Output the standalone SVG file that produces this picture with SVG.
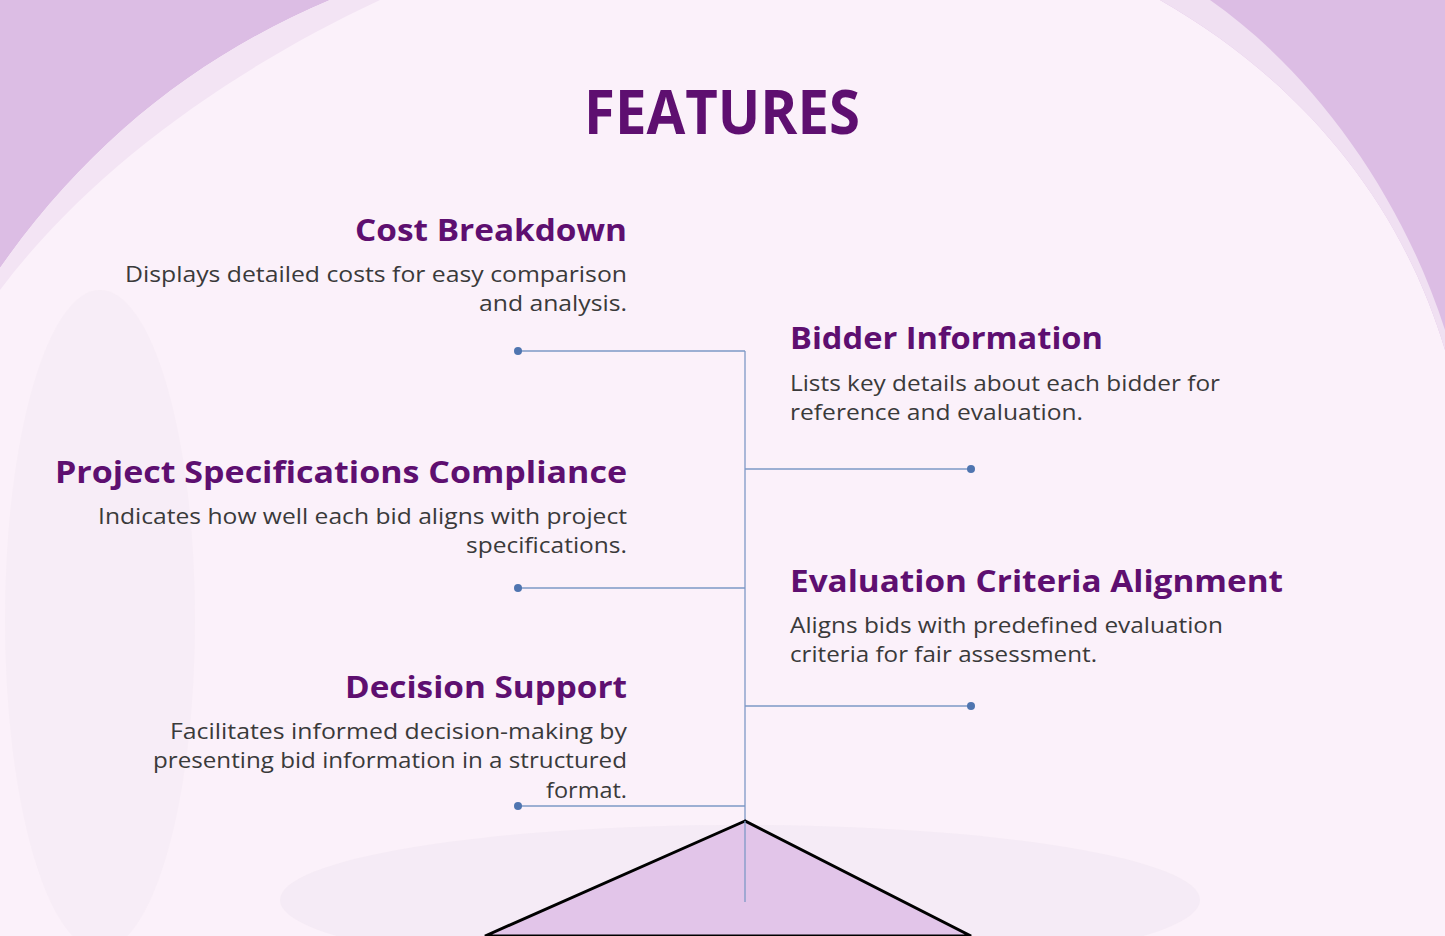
<svg xmlns="http://www.w3.org/2000/svg" width="1445" height="936" viewBox="0 0 1445 936">
<style>
.h{font-family:"Open Sans",sans-serif;font-weight:700;font-size:31px;fill:#5e0f70}
.d{font-family:"Open Sans",sans-serif;font-size:22px;fill:#3a3a3a}
.c{stroke:#7d98c6;stroke-width:1.3;fill:none}
.dot{fill:#4f75b0}
</style>
<rect width="1445" height="936" fill="#dcbde4"/>
<path d="M0,268 C90,140 200,55 330,0 L1160,0 C1300,80 1400,200 1445,350 L1445,936 L0,936 Z" fill="#fbf1fa"/>
<path d="M0,268 C90,140 200,55 330,0 L380,0 C230,70 90,170 0,290 Z" fill="#f3e4f4"/>
<path d="M1160,0 C1300,80 1400,200 1445,350 L1445,330 C1400,190 1310,70 1210,0 Z" fill="#f0e0f2"/>
<ellipse cx="740" cy="900" rx="460" ry="75" fill="#efe6f2" opacity="0.5"/>
<ellipse cx="100" cy="620" rx="95" ry="330" fill="#f3e9f4" opacity="0.5"/>
<text x="722" y="134" text-anchor="middle" font-family="Open Sans, sans-serif" font-weight="700" font-size="60" fill="#5e0f70" textLength="276" lengthAdjust="spacingAndGlyphs">FEATURES</text>
<g id="connectors">
<line class="c" x1="745" y1="351" x2="745" y2="902"/>
<line class="c" x1="518" y1="351" x2="745" y2="351"/>
<line class="c" x1="518" y1="588" x2="745" y2="588"/>
<line class="c" x1="518" y1="806" x2="745" y2="806"/>
<line class="c" x1="745" y1="469" x2="971" y2="469"/>
<line class="c" x1="745" y1="706" x2="971" y2="706"/>
<circle class="dot" cx="518" cy="351" r="4"/>
<circle class="dot" cx="518" cy="588" r="4"/>
<circle class="dot" cx="518" cy="806" r="4"/>
<circle class="dot" cx="971" cy="469" r="4"/>
<circle class="dot" cx="971" cy="706" r="4"/>
</g>
<polygon points="745,821 485,936 971,936" fill="#e2c5e9" stroke="#000" stroke-width="3"/>
<line class="c" x1="745" y1="821" x2="745" y2="902"/>
<g id="cost" text-anchor="end">
<text class="h" x="627" y="241" textLength="272" lengthAdjust="spacingAndGlyphs">Cost Breakdown</text>
<text class="d" x="627" y="282" textLength="502" lengthAdjust="spacingAndGlyphs">Displays detailed costs for easy comparison</text>
<text class="d" x="627" y="311" textLength="148" lengthAdjust="spacingAndGlyphs">and analysis.</text>
</g>
<g id="bidder">
<text class="h" x="790" y="349" textLength="313" lengthAdjust="spacingAndGlyphs">Bidder Information</text>
<text class="d" x="790" y="391" textLength="430" lengthAdjust="spacingAndGlyphs">Lists key details about each bidder for</text>
<text class="d" x="790" y="420" textLength="293" lengthAdjust="spacingAndGlyphs">reference and evaluation.</text>
</g>
<g id="project" text-anchor="end">
<text class="h" x="627" y="483" textLength="572" lengthAdjust="spacingAndGlyphs">Project Specifications Compliance</text>
<text class="d" x="627" y="524" textLength="529" lengthAdjust="spacingAndGlyphs">Indicates how well each bid aligns with project</text>
<text class="d" x="627" y="553" textLength="161" lengthAdjust="spacingAndGlyphs">specifications.</text>
</g>
<g id="evaluation">
<text class="h" x="790" y="592" textLength="493" lengthAdjust="spacingAndGlyphs">Evaluation Criteria Alignment</text>
<text class="d" x="790" y="633" textLength="433" lengthAdjust="spacingAndGlyphs">Aligns bids with predefined evaluation</text>
<text class="d" x="790" y="662" textLength="307" lengthAdjust="spacingAndGlyphs">criteria for fair assessment.</text>
</g>
<g id="decision" text-anchor="end">
<text class="h" x="627" y="698" textLength="282" lengthAdjust="spacingAndGlyphs">Decision Support</text>
<text class="d" x="627" y="739" textLength="457" lengthAdjust="spacingAndGlyphs">Facilitates informed decision-making by</text>
<text class="d" x="627" y="768" textLength="474" lengthAdjust="spacingAndGlyphs">presenting bid information in a structured</text>
<text class="d" x="627" y="798" textLength="81" lengthAdjust="spacingAndGlyphs">format.</text>
</g>
</svg>
